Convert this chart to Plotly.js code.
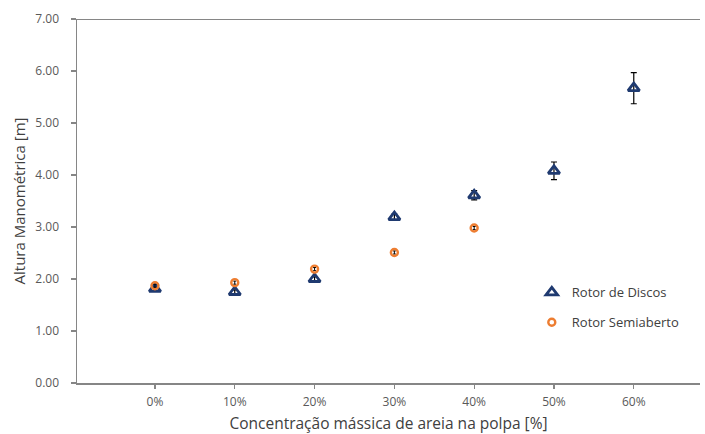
<!DOCTYPE html>
<html>
<head>
<meta charset="utf-8">
<script src="https://cdn.plot.ly/plotly-3.0.1.min.js"></script>
<style>html,body{margin:0;padding:0;background:#fff;}#chart{width:705px;height:434px;}</style>
</head>
<body>
<div id="chart"></div>
<script>
const concentracao = [0, 10, 20, 30, 40, 50, 60];
const tickLabels = ["0%", "10%", "20%", "30%", "40%", "50%", "60%"];
const discosAltura = [1.81, 1.75, 2.00, 3.19, 3.61, 4.08, 5.67];
const discosErro = [0.04, 0.04, 0.04, 0.06, 0.09, 0.17, 0.30];
const semiConc = [0, 10, 20, 30, 40];
const semiAltura = [1.87, 1.93, 2.19, 2.51, 2.98];
const semiErro = [0.03, 0.03, 0.03, 0.03, 0.03];

const font = "'Open Sans', 'Noto Sans', sans-serif";

const traces = [
  {
    x: concentracao, y: discosAltura, name: "Rotor de Discos", type: "scatter", mode: "markers",
    legendgroup: "a",
    marker: {symbol: "triangle-up-open", size: 10, color: "#1F3A70", line: {width: 2.8, color: "#1F3A70"}},
    error_y: {type: "data", array: discosErro, visible: true, color: "#000", thickness: 1.2, width: 3}
  },
  {
    x: semiConc, y: semiAltura, name: "Rotor Semiaberto", type: "scatter", mode: "markers",
    legendgroup: "b",
    marker: {symbol: "circle-open", size: 7, color: "#ED7D31", line: {width: 2.4, color: "#ED7D31"}},
    error_y: {type: "data", array: semiErro, visible: true, color: "#000", thickness: 1, width: 1.5}
  }
];

const layout = {
  width: 705, height: 434,
  margin: {l: 77, r: 5, t: 19, b: 51},
  paper_bgcolor: "#fff", plot_bgcolor: "#fff",
  font: {family: font, color: "#595959", size: 12},
  showlegend: true,
  legend: {x: 0.73, y: 0.29, xanchor: "left", yanchor: "top", tracegroupgap: 10,
    font: {family: font, size: 13, color: "#404040"}, bgcolor: "rgba(0,0,0,0)"},
  xaxis: {
    range: [-9.77, 68.3], tickvals: concentracao, ticktext: tickLabels,
    showgrid: false, zeroline: false, showline: true, linecolor: "#868686", linewidth: 1.5,
    ticks: "outside", ticklen: 4, tickcolor: "#868686", tickwidth: 1.3, ticklabelstandoff: 3,
    tickfont: {family: font, size: 12, color: "#595959"},
    title: {text: "Concentração mássica de areia na polpa [%]", font: {family: font, size: 15.5, color: "#404040"}, standoff: 12}
  },
  yaxis: {
    range: [0, 7], dtick: 1, tickformat: ".2f",
    showgrid: false, zeroline: false, showline: true, linecolor: "#868686", linewidth: 1.5,
    ticks: "outside", ticklen: 5, tickcolor: "#868686", tickwidth: 1.3, ticklabelstandoff: 9,
    tickfont: {family: font, size: 12, color: "#595959"},
    title: {text: "Altura Manométrica [m]", font: {family: font, size: 15, color: "#404040"}, standoff: 6}
  },
  shapes: [
    {type: "line", xref: "paper", x0: 0, x1: 1, yref: "y", y0: 7, y1: 7, line: {color: "#868686", width: 2}}
  ]
};

Plotly.newPlot("chart", traces, layout, {displayModeBar: false, staticPlot: true});
</script>
</body>
</html>
